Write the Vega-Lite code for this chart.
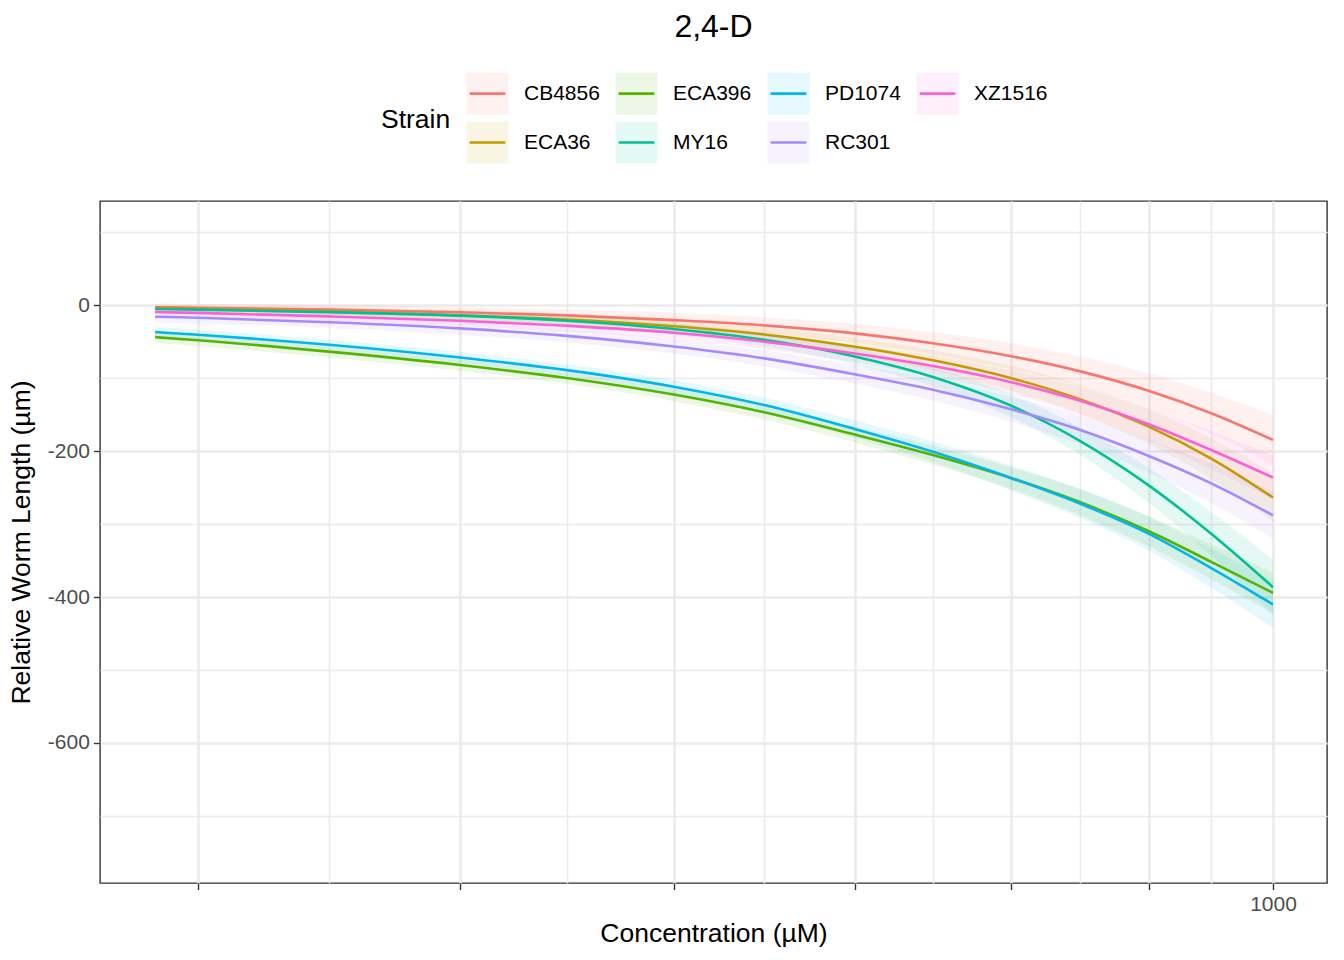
{
  "$schema": "https://vega.github.io/schema/vega-lite/v6.json",
  "width": 1227,
  "height": 682,
  "autosize": {"type": "none"},
  "padding": {"left": 100, "top": 201, "right": 17, "bottom": 77},
  "background": "white",
  "title": {"text": "2,4-D", "fontSize": 32, "fontWeight": "normal", "color": "black", "anchor": "middle", "frame": "group", "offset": 27},
  "data": {
    "values": [
      {"s": "CB4856", "c": 385.6, "y": -3, "lo": -8, "hi": 2},
      {"s": "CB4856", "c": 400, "y": -3.65, "lo": -8.65, "hi": 1.35},
      {"s": "CB4856", "c": 447.2, "y": -6.3, "lo": -12.3, "hi": -0.3},
      {"s": "CB4856", "c": 500, "y": -9.9, "lo": -16.9, "hi": -2.9},
      {"s": "CB4856", "c": 547.7, "y": -14.2, "lo": -22.2, "hi": -6.2},
      {"s": "CB4856", "c": 600, "y": -20.7, "lo": -30.7, "hi": -10.7},
      {"s": "CB4856", "c": 648.1, "y": -27.9, "lo": -38.9, "hi": -16.9},
      {"s": "CB4856", "c": 700, "y": -38.8, "lo": -51.8, "hi": -25.8},
      {"s": "CB4856", "c": 748.3, "y": -52.4, "lo": -67.4, "hi": -37.4},
      {"s": "CB4856", "c": 800, "y": -70.2, "lo": -88.2, "hi": -52.2},
      {"s": "CB4856", "c": 848.5, "y": -90.9, "lo": -110.9, "hi": -70.9},
      {"s": "CB4856", "c": 900, "y": -117.8, "lo": -141.8, "hi": -93.8},
      {"s": "CB4856", "c": 948.7, "y": -148.2, "lo": -176.2, "hi": -120.2},
      {"s": "CB4856", "c": 1000, "y": -184.8, "lo": -218.8, "hi": -150.8},

      {"s": "ECA36", "c": 385.6, "y": -4.5, "lo": -9.5, "hi": 0.5},
      {"s": "ECA36", "c": 400, "y": -5.4, "lo": -10.4, "hi": -0.4},
      {"s": "ECA36", "c": 447.2, "y": -9.1, "lo": -15.1, "hi": -3.1},
      {"s": "ECA36", "c": 500, "y": -14, "lo": -21, "hi": -7},
      {"s": "ECA36", "c": 547.7, "y": -19.9, "lo": -27.9, "hi": -11.9},
      {"s": "ECA36", "c": 600, "y": -29.1, "lo": -38.1, "hi": -20.1},
      {"s": "ECA36", "c": 648.1, "y": -40.3, "lo": -50.3, "hi": -30.3},
      {"s": "ECA36", "c": 700, "y": -57.1, "lo": -69.1, "hi": -45.1},
      {"s": "ECA36", "c": 748.3, "y": -75.8, "lo": -89.8, "hi": -61.8},
      {"s": "ECA36", "c": 800, "y": -100.3, "lo": -117.3, "hi": -83.3},
      {"s": "ECA36", "c": 848.5, "y": -129.3, "lo": -149.3, "hi": -109.3},
      {"s": "ECA36", "c": 900, "y": -166.9, "lo": -190.9, "hi": -142.9},
      {"s": "ECA36", "c": 948.7, "y": -210.3, "lo": -238.3, "hi": -182.3},
      {"s": "ECA36", "c": 1000, "y": -263.7, "lo": -296.7, "hi": -230.7},

      {"s": "ECA396", "c": 385.6, "y": -44, "lo": -52, "hi": -36},
      {"s": "ECA396", "c": 400, "y": -48.3, "lo": -56.3, "hi": -40.3},
      {"s": "ECA396", "c": 447.2, "y": -63.9, "lo": -71.9, "hi": -55.9},
      {"s": "ECA396", "c": 500, "y": -82.2, "lo": -90.2, "hi": -74.2},
      {"s": "ECA396", "c": 547.7, "y": -100, "lo": -108, "hi": -92},
      {"s": "ECA396", "c": 600, "y": -122.7, "lo": -131.7, "hi": -113.7},
      {"s": "ECA396", "c": 648.1, "y": -147, "lo": -157, "hi": -137},
      {"s": "ECA396", "c": 700, "y": -177.5, "lo": -188.5, "hi": -166.5},
      {"s": "ECA396", "c": 748.3, "y": -205.6, "lo": -218.6, "hi": -192.6},
      {"s": "ECA396", "c": 800, "y": -237.2, "lo": -252.2, "hi": -222.2},
      {"s": "ECA396", "c": 848.5, "y": -270.3, "lo": -288.3, "hi": -252.3},
      {"s": "ECA396", "c": 900, "y": -310.3, "lo": -331.3, "hi": -289.3},
      {"s": "ECA396", "c": 948.7, "y": -351.8, "lo": -375.8, "hi": -327.8},
      {"s": "ECA396", "c": 1000, "y": -394.4, "lo": -422.4, "hi": -366.4},

      {"s": "MY16", "c": 385.6, "y": -5.5, "lo": -9.5, "hi": -1.5},
      {"s": "MY16", "c": 400, "y": -6.3, "lo": -10.3, "hi": -2.3},
      {"s": "MY16", "c": 447.2, "y": -9.7, "lo": -14.7, "hi": -4.7},
      {"s": "MY16", "c": 500, "y": -14.5, "lo": -20.5, "hi": -8.5},
      {"s": "MY16", "c": 547.7, "y": -21.5, "lo": -28.5, "hi": -14.5},
      {"s": "MY16", "c": 600, "y": -32.8, "lo": -40.8, "hi": -24.8},
      {"s": "MY16", "c": 648.1, "y": -47.7, "lo": -56.7, "hi": -38.7},
      {"s": "MY16", "c": 700, "y": -70.4, "lo": -81.4, "hi": -59.4},
      {"s": "MY16", "c": 748.3, "y": -98.5, "lo": -111.5, "hi": -85.5},
      {"s": "MY16", "c": 800, "y": -138, "lo": -154, "hi": -122},
      {"s": "MY16", "c": 848.5, "y": -186.3, "lo": -205.3, "hi": -167.3},
      {"s": "MY16", "c": 900, "y": -247.7, "lo": -271.7, "hi": -223.7},
      {"s": "MY16", "c": 948.7, "y": -313.4, "lo": -343.4, "hi": -283.4},
      {"s": "MY16", "c": 1000, "y": -386.6, "lo": -424.6, "hi": -348.6},

      {"s": "PD1074", "c": 385.6, "y": -37, "lo": -44, "hi": -30},
      {"s": "PD1074", "c": 400, "y": -40.7, "lo": -47.7, "hi": -33.7},
      {"s": "PD1074", "c": 447.2, "y": -54.5, "lo": -61.5, "hi": -47.5},
      {"s": "PD1074", "c": 500, "y": -71.9, "lo": -79.9, "hi": -63.9},
      {"s": "PD1074", "c": 547.7, "y": -89.2, "lo": -97.2, "hi": -81.2},
      {"s": "PD1074", "c": 600, "y": -111.9, "lo": -120.9, "hi": -102.9},
      {"s": "PD1074", "c": 648.1, "y": -137.1, "lo": -147.1, "hi": -127.1},
      {"s": "PD1074", "c": 700, "y": -169.9, "lo": -181.9, "hi": -157.9},
      {"s": "PD1074", "c": 748.3, "y": -201.1, "lo": -215.1, "hi": -187.1},
      {"s": "PD1074", "c": 800, "y": -237, "lo": -254, "hi": -220},
      {"s": "PD1074", "c": 848.5, "y": -272.2, "lo": -292.2, "hi": -252.2},
      {"s": "PD1074", "c": 900, "y": -313.9, "lo": -336.9, "hi": -290.9},
      {"s": "PD1074", "c": 948.7, "y": -360.4, "lo": -387.4, "hi": -333.4},
      {"s": "PD1074", "c": 1000, "y": -410.2, "lo": -442.2, "hi": -378.2},

      {"s": "RC301", "c": 385.6, "y": -16, "lo": -24, "hi": -8},
      {"s": "RC301", "c": 400, "y": -17.5, "lo": -25.5, "hi": -9.5},
      {"s": "RC301", "c": 447.2, "y": -23.6, "lo": -31.6, "hi": -15.6},
      {"s": "RC301", "c": 500, "y": -32, "lo": -41, "hi": -23},
      {"s": "RC301", "c": 547.7, "y": -42.3, "lo": -51.3, "hi": -33.3},
      {"s": "RC301", "c": 600, "y": -56.9, "lo": -66.9, "hi": -46.9},
      {"s": "RC301", "c": 648.1, "y": -73.1, "lo": -84.1, "hi": -62.1},
      {"s": "RC301", "c": 700, "y": -94.9, "lo": -107.9, "hi": -81.9},
      {"s": "RC301", "c": 748.3, "y": -116, "lo": -131, "hi": -101},
      {"s": "RC301", "c": 800, "y": -142.9, "lo": -159.9, "hi": -125.9},
      {"s": "RC301", "c": 848.5, "y": -171.2, "lo": -191.2, "hi": -151.2},
      {"s": "RC301", "c": 900, "y": -207.1, "lo": -230.1, "hi": -184.1},
      {"s": "RC301", "c": 948.7, "y": -244.3, "lo": -271.3, "hi": -217.3},
      {"s": "RC301", "c": 1000, "y": -288.1, "lo": -320.1, "hi": -256.1},

      {"s": "XZ1516", "c": 385.6, "y": -9.6, "lo": -14.6, "hi": -4.6},
      {"s": "XZ1516", "c": 400, "y": -10.8, "lo": -15.8, "hi": -5.8},
      {"s": "XZ1516", "c": 447.2, "y": -15.6, "lo": -21.6, "hi": -9.6},
      {"s": "XZ1516", "c": 500, "y": -21.5, "lo": -28.5, "hi": -14.5},
      {"s": "XZ1516", "c": 547.7, "y": -28.4, "lo": -36.4, "hi": -20.4},
      {"s": "XZ1516", "c": 600, "y": -37.9, "lo": -46.9, "hi": -28.9},
      {"s": "XZ1516", "c": 648.1, "y": -50.1, "lo": -60.1, "hi": -40.1},
      {"s": "XZ1516", "c": 700, "y": -66.5, "lo": -78.5, "hi": -54.5},
      {"s": "XZ1516", "c": 748.3, "y": -83.6, "lo": -97.6, "hi": -69.6},
      {"s": "XZ1516", "c": 800, "y": -105.8, "lo": -121.8, "hi": -89.8},
      {"s": "XZ1516", "c": 848.5, "y": -131.3, "lo": -150.3, "hi": -112.3},
      {"s": "XZ1516", "c": 900, "y": -163.7, "lo": -185.7, "hi": -141.7},
      {"s": "XZ1516", "c": 948.7, "y": -198.7, "lo": -224.7, "hi": -172.7},
      {"s": "XZ1516", "c": 1000, "y": -236.5, "lo": -266.5, "hi": -206.5}
    ]
  },
  "encoding": {
    "x": {
      "field": "c",
      "type": "quantitative",
      "scale": {"type": "log", "domain": [367.9, 1047.1], "nice": false},
      "title": "Concentration (µM)",
      "axis": {
        "values": [400, 447.2, 500, 547.7, 600, 648.1, 700, 748.3, 800, 848.5, 900, 948.7, 1000],
        "labelExpr": "datum.value == 1000 ? '1000' : ''",
        "labelOverlap": false,
        "labelFlush": false,
        "gridWidth": {"condition": {"test": "datum.value % 100 == 0", "value": 2.6}, "value": 1.5},
        "tickOpacity": {"condition": {"test": "datum.value % 100 == 0", "value": 1}, "value": 0},
        "titlePadding": 6
      }
    },
    "color": {
      "field": "s",
      "type": "nominal",
      "scale": {
        "domain": ["CB4856", "ECA36", "ECA396", "MY16", "PD1074", "RC301", "XZ1516"],
        "range": ["#F8766D", "#C49A00", "#53B400", "#00C094", "#00B6EB", "#A58AFF", "#FB61D7"]
      },
      "legend": {
        "title": "Strain",
        "orient": "none",
        "legendX": 281,
        "legendY": -130,
        "columns": 4,
        "titleOrient": "left",
        "titleAnchor": "middle",
        "titleFontSize": 26.5,
        "titleFontWeight": "normal",
        "titleColor": "black",
        "titlePadding": 14,
        "labelFontSize": 21,
        "labelColor": "black",
        "labelOffset": 14,
        "symbolType": "M-0.85,0H0.85H1V1H-1V-1H1V0",
        "symbolSize": 1764,
        "symbolStrokeWidth": 2.6,
        "symbolDash": [35.7, 400],
        "rowPadding": -10,
        "columnPadding": 10,
        "encode": {
          "symbols": {
            "update": {
              "fill": {"scale": "color", "field": "value"},
              "fillOpacity": {"value": 0.1},
              "stroke": {"scale": "color", "field": "value"},
              "strokeOpacity": {"value": 1},
              "opacity": {"value": 1}
            }
          }
        }
      }
    }
  },
  "layer": [
    {
      "mark": {"type": "area", "interpolate": "monotone", "fillOpacity": 0.1},
      "encoding": {
        "y": {
          "field": "lo",
          "type": "quantitative",
          "scale": {"domain": [-791.8, 142.5], "nice": false, "zero": false},
          "title": "Relative Worm Length (µm)",
          "axis": {
            "values": [-700, -600, -500, -400, -300, -200, -100, 0, 100],
            "labelExpr": "datum.value % 200 == 0 ? datum.value + '' : ''",
            "gridWidth": {"condition": {"test": "datum.value % 200 == 0", "value": 2.6}, "value": 1.5},
            "tickOpacity": {"condition": {"test": "datum.value % 200 == 0", "value": 1}, "value": 0},
            "titlePadding": 12
          }
        },
        "y2": {"field": "hi"}
      }
    },
    {
      "mark": {"type": "line", "interpolate": "monotone", "strokeWidth": 2.6},
      "encoding": {
        "y": {
          "field": "y",
          "type": "quantitative",
          "title": "Relative Worm Length (µm)"
        }
      }
    }
  ],
  "config": {
    "font": "Liberation Sans",
    "view": {"stroke": "#333333", "strokeWidth": 1.4},
    "axis": {
      "grid": true,
      "gridColor": "#EBEBEB",
      "domain": false,
      "tickColor": "#333333",
      "tickWidth": 1.4,
      "tickSize": 6.6,
      "labelFontSize": 21,
      "labelColor": "#4D4D4D",
      "labelPadding": 4,
      "titleFontSize": 26.5,
      "titleFontWeight": "normal",
      "titleColor": "black"
    }
  }
}
